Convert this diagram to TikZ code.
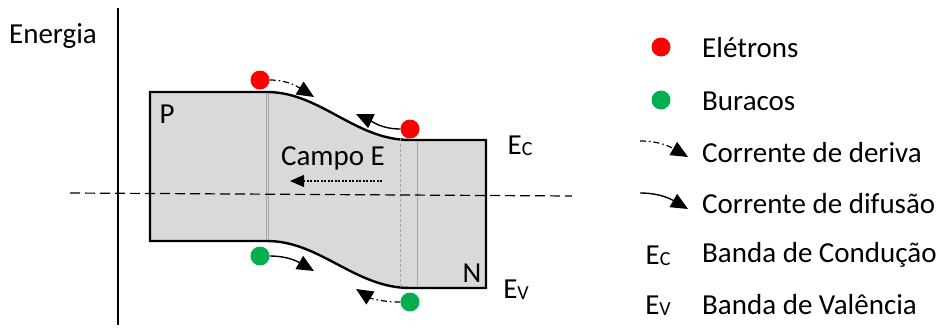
\documentclass[tikz,border=0pt]{standalone}
\usepackage{fontspec}
\setmainfont{Carlito}
\usetikzlibrary{arrows.meta}
\definecolor{bandfill}{HTML}{D9D9D9}
\definecolor{elred}{HTML}{FF0000}
\definecolor{holegreen}{HTML}{00B050}
\tikzset{
  lbl/.style={font=\fontsize{29}{34}\selectfont, inner sep=0pt},
  carrier/.style={circle, inner sep=0pt, minimum size=19pt},
  electron/.style={carrier, fill=elred},
  hole/.style={carrier, fill=holegreen},
  tip/.style={-{Triangle[length=17pt,width=15pt]}},
  drift/.style={tip, line width=1.2pt, dash pattern=on 6pt off 3pt on 1.5pt off 3pt},
  diffusion/.style={tip, line width=1.4pt},
  bandedge/.style={line width=2.4pt, line join=miter},
  guide/.style={line width=0.9pt, black!35}
}
\newcommand{\subE}[1]{E\raisebox{-1pt}{\fontsize{20}{22}\selectfont #1}}
\begin{document}
\begin{tikzpicture}[x=1pt, y=-1pt]
\useasboundingbox (0,0) rectangle (941,327);

% energy axis
\draw[line width=1.3pt] (118,8) -- (118,325);
\node[lbl] (energia) at (53,36) {Energia};

% band diagram of the junction
\draw[bandedge, fill=bandfill]
  (150,92) -- (267,92) .. controls (320,92) and (355,140) .. (410,140)
  -- (486,140) -- (486,288) -- (410,288)
  .. controls (355,288) and (320,241) .. (267,241) -- (150,241) -- cycle;

% depletion region boundaries
\draw[guide] (266,93) -- (266,240);
\draw[guide] (268.5,93) -- (268.5,240);
\draw[guide, dash pattern=on 3pt off 2pt] (400,139) -- (400,287);
\draw[guide] (417,141) -- (417,287);

% Fermi level
\draw[line width=1.2pt, dash pattern=on 10pt off 5pt] (70,193) -- (572,196);

% labels inside the bands
\node[lbl] (p) at (167,114) {P};
\node[lbl] (n) at (472,273) {N};
\node[lbl] (campo) at (333,158) {Campo E};
\coordinate (fstart) at (382,181);
\coordinate (fend) at (290,181);
\draw[-{Triangle[length=14pt,width=12pt]}, line width=1.2pt, dash pattern=on 2pt off 1.5pt] (fstart) -- (fend);

\node[lbl] (ec) at (520,146) {\subE{C}};
\node[lbl] (ev) at (516,290) {\subE{V}};

% carriers
\node[electron] (e1) at (260,80) {};
\node[electron] (e2) at (410,129) {};
\node[hole] (h1) at (260,256) {};
\node[hole] (h2) at (410,302) {};

% carrier currents
\coordinate (t1) at (314,97);
\coordinate (t2) at (356,114);
\coordinate (t3) at (314,271);
\coordinate (t4) at (356,289);
\draw[drift] (e1.east) to[out=0, in=148] (t1);
\draw[diffusion] (e2.west) to[out=180, in=-25] (t2);
\draw[diffusion] (h1.east) to[out=0, in=150] (t3);
\draw[drift] (h2.west) to[out=180, in=-32] (t4);

% legend
\node[electron] (le) at (661,47) {};
\node[lbl, anchor=west] (tle) at (702,48) {Elétrons};
\node[hole] (lh) at (661,100) {};
\node[lbl, anchor=west] (tlh) at (702,101) {Buracos};

\coordinate (ld1) at (640,141);
\coordinate (ld2) at (688,157);
\draw[drift] (ld1) to[out=0, in=150] (ld2);
\node[lbl, anchor=west] (tld) at (702,153) {Corrente de deriva};

\coordinate (lf1) at (640,193);
\coordinate (lf2) at (688,209);
\draw[diffusion] (lf1) to[out=0, in=150] (lf2);
\node[lbl, anchor=west] (tlf) at (702,204) {Corrente de difusão};

\node[lbl] (lec) at (658,256) {\subE{C}};
\node[lbl, anchor=west] (tlec) at (702,255) {Banda de Condução};
\node[lbl] (lev) at (658,306) {\subE{V}};
\node[lbl, anchor=west] (tlev) at (702,305) {Banda de Valência};
\end{tikzpicture}
\end{document}
